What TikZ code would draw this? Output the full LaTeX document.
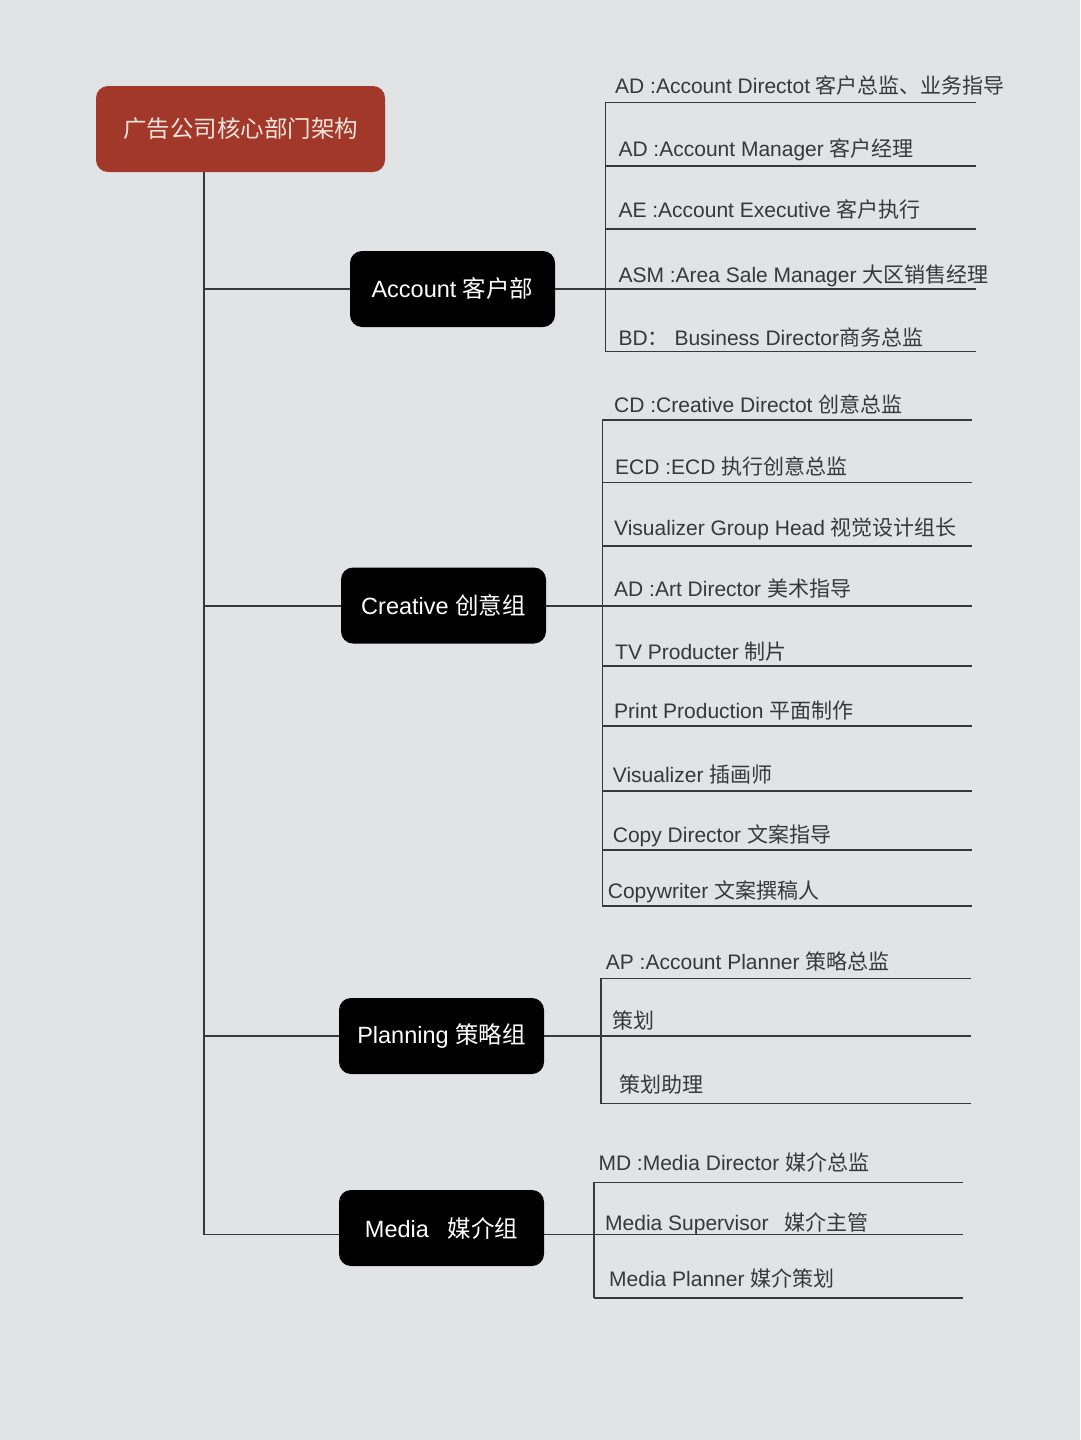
\documentclass[tikz,border=0pt]{standalone}
\usepackage{fontspec}
\setmainfont{Liberation Sans}
\newfontfamily\cjk{Noto Sans CJK SC}
\newcommand{\zh}[1]{{\cjk #1}}
\usetikzlibrary{positioning}
\definecolor{paper}{HTML}{E1E3E4}
\definecolor{rootred}{HTML}{A2382A}
\definecolor{rootpink}{HTML}{F4E4DD}
\definecolor{ink}{HTML}{383838}

\begin{document}
\begin{tikzpicture}[x=1pt,y=-1pt,
    dept/.style={fill=black,text=white,rounded corners=12pt,minimum width=205pt,minimum height=76pt,inner sep=0pt,font=\fontsize{23.5}{28}\selectfont},
    head/.style={dept,fill=rootred,text=rootpink,minimum width=289pt,minimum height=86pt,font=\fontsize{23.5}{28}\selectfont\cjk},
    role/.style={anchor=base west,inner sep=0pt,text=ink,font=\fontsize{21}{24}\selectfont},
    line/.style={draw=ink,line width=1.3pt}]
\fill[paper] (0,0) rectangle (1080,1440);

% branch lines (behind the boxes)
\coordinate (spine) at (204,172);
\foreach \x/\b/\l/\t [count=\i] in {
    615/93.3/102.3/{AD :Account Directot \zh{客户总监、业务指导}},
    618.3/156.7/166/{AD :Account Manager \zh{客户经理}},
    618.3/217.3/229/{AE :Account Executive \zh{客户执行}},
    618.3/282.3/289/{ASM :Area Sale Manager \zh{大区销售经理}},
    618.3/345.7/351.7/{BD\zh{：} Business Director\zh{商务总监}}} {
  \node[role] (acc\i) at (\x,\b) {\t};
  \coordinate (accL\i) at (605.7,\l);
  \coordinate (accR\i) at (976,\l);
  \draw[line] (accL\i) -- (accR\i);
}
\foreach \x/\b/\l/\t [count=\i] in {
    614/412.7/420/{CD :Creative Directot \zh{创意总监}},
    615/474/482.7/{ECD :ECD \zh{执行创意总监}},
    614/535/546/{Visualizer Group Head \zh{视觉设计组长}},
    614/596/606/{AD :Art Director \zh{美术指导}},
    615/659.7/666/{TV Producter \zh{制片}},
    614/718.6/726/{Print Production \zh{平面制作}},
    612.7/782/791/{Visualizer \zh{插画师}},
    612.7/842.3/850/{Copy Director \zh{文案指导}},
    607.7/898.4/906/{Copywriter \zh{文案撰稿人}}} {
  \node[role] (cre\i) at (\x,\b) {\t};
  \coordinate (creL\i) at (602.3,\l);
  \coordinate (creR\i) at (972,\l);
  \draw[line] (creL\i) -- (creR\i);
}
\foreach \x/\b/\l/\t [count=\i] in {
    605.7/969.3/978.3/{AP :Account Planner \zh{策略总监}},
    612.7/1028.6/1036/{\zh{策划}},
    619/1092.6/1103.7/{\zh{策划助理}}} {
  \node[role] (pla\i) at (\x,\b) {\t};
  \coordinate (plaL\i) at (601,\l);
  \coordinate (plaR\i) at (971,\l);
  \draw[line] (plaL\i) -- (plaR\i);
}
\foreach \x/\b/\l/\t [count=\i] in {
    598.3/1170.7/1182.3/{MD :Media Director \zh{媒介总监}},
    605/1230/1234.7/{Media Supervisor\hspace{10pt} \zh{媒介主管}},
    609/1286/1298/{Media Planner \zh{媒介策划}}} {
  \node[role] (med\i) at (\x,\b) {\t};
  \coordinate (medL\i) at (594,\l);
  \coordinate (medR\i) at (963,\l);
  \draw[line] (medL\i) -- (medR\i);
}
\draw[line] (accL1) -- (accL5);
\draw[line] (creL1) -- (creL9);
\draw[line] (plaL1) -- (plaL3);
\draw[line] (medL1) -- (medL3);
\draw[line] (spine) -- (spine |- medL2);

\node[head] (root) at (240.5,129) {广告公司核心部门架构};
\node[dept] (account) at (452.5,289) {Account \zh{客户部}};
\node[dept] (creative) at (443.5,605.5) {Creative \zh{创意组}};
\node[dept] (planning) at (441.5,1036) {Planning \zh{策略组}};
\node[dept] (media) at (441.5,1228) {Media\hspace{12pt} \zh{媒介组}};

\path[line]
  (spine |- accL4) edge (account.west |- accL4)
  (account.east |- accL4) edge (accL4)
  (spine |- creL4) edge (creative.west |- creL4)
  (creative.east |- creL4) edge (creL4)
  (spine |- plaL2) edge (planning.west |- plaL2)
  (planning.east |- plaL2) edge (plaL2)
  (spine |- medL2) edge (media.west |- medL2)
  (media.east |- medL2) edge (medL2);
\end{tikzpicture}
\end{document}
